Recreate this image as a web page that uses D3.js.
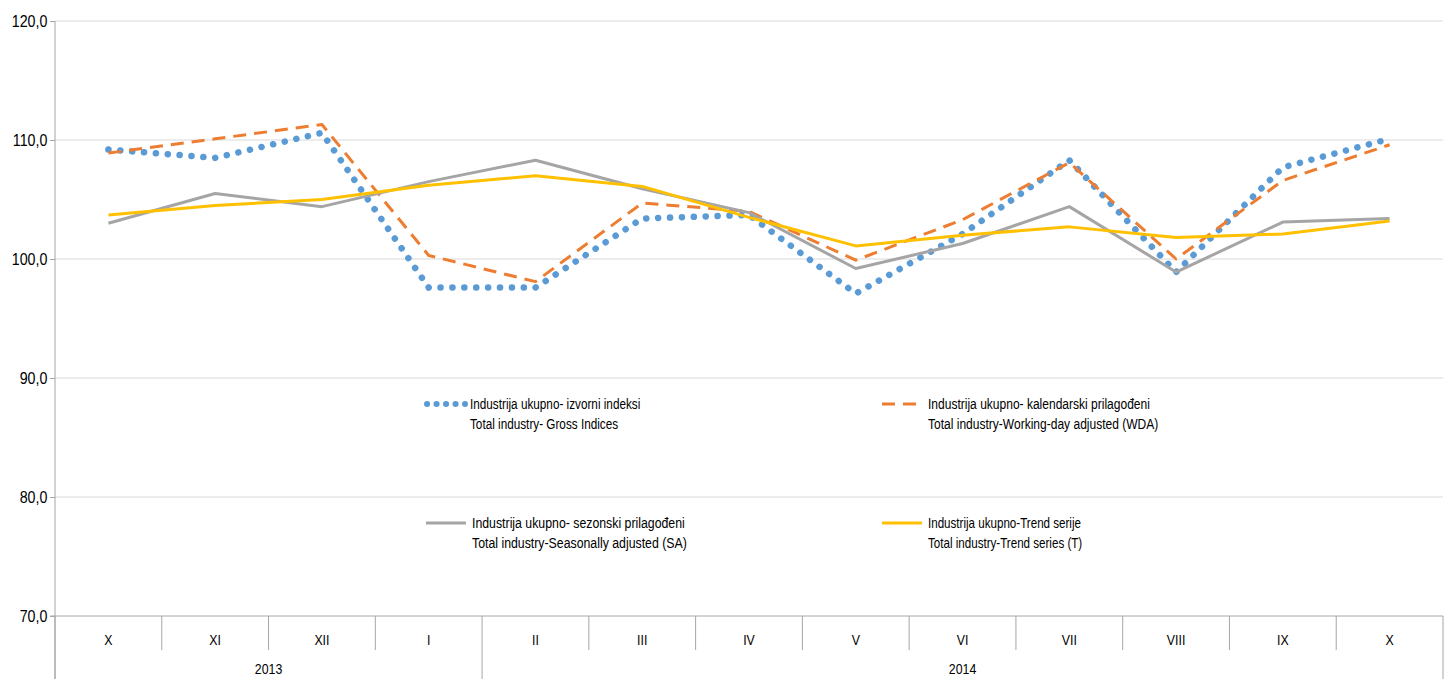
<!DOCTYPE html>
<html>
<head>
<meta charset="utf-8">
<script src="https://cdn.jsdelivr.net/npm/d3@7"></script>
<style>
  body { margin: 0; background: #fff; }
  text { font-family: "Liberation Sans", Arial, sans-serif; fill: #000; }
</style>
</head>
<body>
<div id="chart"></div>
<script>
const months = ['X', 'XI', 'XII', 'I', 'II', 'III', 'IV', 'V', 'VI', 'VII', 'VIII', 'IX', 'X'];
const years = [{ label: '2013', from: 0, to: 4 }, { label: '2014', from: 4, to: 13 }];
const gross = [109.2, 108.5, 110.6, 97.6, 97.6, 103.4, 103.7, 97.1, 102.1, 108.3, 98.9, 107.7, 110.1];
const wda = [108.9, 110.1, 111.3, 100.3, 98.1, 104.7, 104.0, 99.9, 103.3, 108.1, 100.0, 106.6, 109.6];
const sa = [103.0, 105.5, 104.4, 106.5, 108.3, 105.9, 103.9, 99.2, 101.3, 104.4, 98.9, 103.1, 103.4];
const trend = [103.7, 104.5, 105.0, 106.2, 107.0, 106.1, 103.5, 101.1, 102.0, 102.7, 101.8, 102.1, 103.2];
const yTicks = [70, 80, 90, 100, 110, 120];

const width = 1450, height = 679;
const margin = { top: 21, right: 7, bottom: 63, left: 55 };

const svg = d3.select('#chart').append('svg')
  .attr('width', width)
  .attr('height', height);

const x = d3.scaleBand()
  .domain(d3.range(months.length))
  .range([margin.left, width - margin.right]);

const y = d3.scaleLinear()
  .domain([70, 120])
  .range([height - margin.bottom, margin.top]);

// gridlines
svg.append('g')
  .selectAll('line')
  .data(yTicks.slice(1))
  .join('line')
    .attr('x1', margin.left)
    .attr('x2', width - margin.right)
    .attr('y1', d => y(d))
    .attr('y2', d => y(d))
    .attr('stroke', '#d9d9d9')
    .attr('stroke-width', 1);

// y axis
const yAxis = svg.append('g')
  .attr('transform', `translate(${margin.left},0)`)
  .call(d3.axisLeft(y).tickValues(yTicks).tickSize(5).tickPadding(4)
    .tickFormat(d => d3.format('.1f')(d).replace('.', ',')));
yAxis.select('.domain').remove();
yAxis.selectAll('.tick line').attr('stroke', '#a6a6a6');
yAxis.selectAll('.tick text')
  .attr('font-size', 17)
  .attr('font-family', '"Liberation Sans", Arial, sans-serif')
  .attr('transform', 'scale(0.84,1)')
  .attr('fill', '#000');
svg.append('line')
  .attr('x1', margin.left).attr('x2', margin.left)
  .attr('y1', margin.top).attr('y2', height)
  .attr('stroke', '#a6a6a6');

// x axis
const x0 = y(70);
svg.append('line')
  .attr('x1', margin.left - 5).attr('x2', width - margin.right)
  .attr('y1', x0).attr('y2', x0)
  .attr('stroke', '#a6a6a6');

svg.append('g')
  .selectAll('line')
  .data(d3.range(months.length + 1))
  .join('line')
    .attr('x1', i => i === months.length ? x.range()[1] : x(i))
    .attr('x2', i => i === months.length ? x.range()[1] : x(i))
    .attr('y1', x0)
    .attr('y2', i => (i === 0 || i === 4 || i === months.length) ? height : x0 + 34)
    .attr('stroke', '#a6a6a6');

svg.append('g')
  .selectAll('text')
  .data(months)
  .join('text')
    .attr('transform', (d, i) => `translate(${x(i) + x.bandwidth() / 2},${x0 + 29}) scale(0.88,1)`)
    .attr('text-anchor', 'middle')
    .attr('font-size', 14)
    .text(d => d);

svg.append('g')
  .selectAll('text')
  .data(years)
  .join('text')
    .attr('transform', d => `translate(${(x(d.from) + (d.to === months.length ? x.range()[1] : x(d.to))) / 2},${x0 + 58}) scale(0.88,1)`)
    .attr('text-anchor', 'middle')
    .attr('font-size', 14)
    .text(d => d.label);

// series
const series = [
  { values: gross, color: '#5b9bd5', width: 6.5, dash: '0.1 11.8', cap: 'round' },
  { values: wda, color: '#ed7d31', width: 3, dash: '13 8', cap: 'butt' },
  { values: sa, color: '#a5a5a5', width: 3, dash: null, cap: 'butt' },
  { values: trend, color: '#ffc000', width: 3, dash: null, cap: 'butt' }
];

const line = d3.line()
  .x((d, i) => x(i) + x.bandwidth() / 2)
  .y(d => y(d));

svg.append('g')
  .selectAll('path')
  .data(series)
  .join('path')
    .attr('d', d => line(d.values))
    .attr('fill', 'none')
    .attr('stroke', d => d.color)
    .attr('stroke-width', d => d.width)
    .attr('stroke-dasharray', d => d.dash)
    .attr('stroke-linecap', d => d.cap)
    .attr('stroke-linejoin', 'round');

// legend
const legend = [
  { s: series[0], x: 425, y: 404, l1: 'Industrija ukupno- izvorni indeksi', l2: 'Total industry- Gross Indices', sx: 0.81 },
  { s: series[1], x: 882, y: 404, l1: 'Industrija ukupno- kalendarski prilagođeni', l2: 'Total industry-Working-day adjusted (WDA)', sx: 0.83 },
  { s: series[2], x: 426, y: 523, l1: 'Industrija ukupno- sezonski prilagođeni', l2: 'Total industry-Seasonally adjusted (SA)', sx: 0.85 },
  { s: series[3], x: 882, y: 523, l1: 'Industrija ukupno-Trend serije', l2: 'Total industry-Trend series (T)', sx: 0.80 }
];

const lg = svg.append('g')
  .selectAll('g')
  .data(legend)
  .join('g')
    .attr('transform', d => `translate(${d.x},${d.y})`);

lg.append('line')
  .attr('x1', d => d.s.cap === 'round' ? 2 : 0)
  .attr('x2', 40)
  .attr('y1', 0).attr('y2', 0)
  .attr('stroke', d => d.s.color)
  .attr('stroke-width', d => d.s.cap === 'round' ? 6 : 3)
  .attr('stroke-dasharray', d => d.s.cap === 'round' ? '0.1 9.4' : d.s.dash)
  .attr('stroke-linecap', d => d.s.cap);

const lt = lg.append('g')
  .attr('transform', d => `translate(${d.s.cap === 'round' ? 45 : 46},0) scale(${d.sx},1)`);
lt.append('text')
  .attr('y', 5)
  .attr('font-size', 14.5)
  .text(d => d.l1);
lt.append('text')
  .attr('y', 25)
  .attr('font-size', 14.5)
  .text(d => d.l2);
</script>
</body>
</html>
